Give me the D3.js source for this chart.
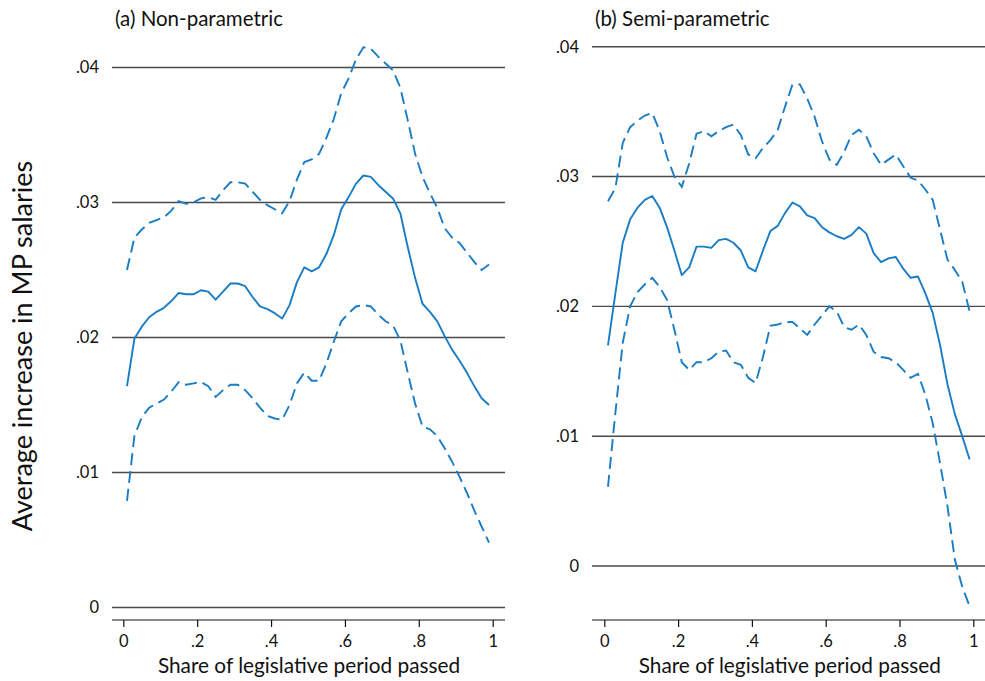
<!DOCTYPE html>
<html>
<head>
<meta charset="utf-8">
<script src="https://cdn.jsdelivr.net/npm/d3@7"></script>
<style>
  html, body { margin: 0; padding: 0; background: #fff; }
  svg text { font-family: "Lato", "Noto Sans", sans-serif; fill: #111; }
</style>
</head>
<body>
<svg id="chart" width="985" height="681"></svg>
<script>
// Share of legislative period passed (bin midpoints)
const share = d3.range(50).map(i => +(0.01 + 0.02 * i).toFixed(2));

// (a) Non-parametric estimate with confidence band
const npEstimate = [0.0164,0.0199,0.0208,0.0215,0.0219,0.0222,0.0227,0.0233,0.0232,0.0232,
  0.0235,0.0234,0.0228,0.0234,0.0240,0.0240,0.0238,0.0230,0.0223,0.0221,
  0.0218,0.0214,0.0224,0.0241,0.0252,0.0249,0.0252,0.0262,0.0276,0.0295,
  0.0304,0.0314,0.0320,0.0319,0.0313,0.0308,0.0303,0.0292,0.0267,0.0244,
  0.0225,0.0219,0.0212,0.0201,0.0191,0.0183,0.0174,0.0164,0.0155,0.0150];
const npUpper = [0.0250,0.0274,0.0280,0.0285,0.0287,0.0289,0.0294,0.0301,0.0299,0.0300,
  0.0303,0.0304,0.0302,0.0309,0.0315,0.0315,0.0314,0.0308,0.0302,0.0298,
  0.0295,0.0292,0.0301,0.0317,0.0330,0.0332,0.0336,0.0348,0.0362,0.0381,
  0.0392,0.0406,0.0415,0.0414,0.0408,0.0403,0.0398,0.0385,0.0361,0.0336,
  0.0319,0.0307,0.0296,0.0281,0.0274,0.0270,0.0263,0.0256,0.0250,0.0254];
const npLower = [0.0079,0.0127,0.0141,0.0148,0.0151,0.0154,0.0160,0.0167,0.0165,0.0166,
  0.0167,0.0164,0.0156,0.0161,0.0165,0.0165,0.0161,0.0155,0.0148,0.0142,
  0.0140,0.0139,0.0150,0.0166,0.0174,0.0168,0.0168,0.0181,0.0197,0.0212,
  0.0218,0.0223,0.0224,0.0223,0.0217,0.0212,0.0209,0.0198,0.0174,0.0151,
  0.0134,0.0132,0.0127,0.0118,0.0108,0.0097,0.0085,0.0072,0.0060,0.0048];

// (b) Semi-parametric estimate with confidence band
const spEstimate = [0.0170,0.0210,0.0249,0.0267,0.0276,0.0282,0.0285,0.0276,0.0261,0.0243,
  0.0224,0.0230,0.0246,0.0246,0.0245,0.0251,0.0252,0.0249,0.0243,0.0230,
  0.0227,0.0243,0.0258,0.0262,0.0272,0.0280,0.0277,0.0270,0.0268,0.0261,
  0.0257,0.0254,0.0252,0.0255,0.0261,0.0256,0.0241,0.0234,0.0237,0.0238,
  0.0229,0.0222,0.0223,0.0210,0.0195,0.0170,0.0140,0.0117,0.0100,0.0082];
const spUpper = [0.0281,0.0291,0.0326,0.0338,0.0343,0.0347,0.0349,0.0335,0.0315,0.0300,
  0.0292,0.0310,0.0333,0.0335,0.0331,0.0335,0.0338,0.0340,0.0332,0.0317,
  0.0314,0.0322,0.0328,0.0336,0.0354,0.0371,0.0371,0.0360,0.0346,0.0327,
  0.0313,0.0309,0.0319,0.0332,0.0336,0.0331,0.0318,0.0309,0.0313,0.0317,
  0.0308,0.0299,0.0297,0.0290,0.0282,0.0259,0.0236,0.0228,0.0219,0.0196];
const spLower = [0.0061,0.0118,0.0172,0.0200,0.0211,0.0217,0.0222,0.0215,0.0205,0.0182,
  0.0157,0.0151,0.0157,0.0157,0.0160,0.0165,0.0166,0.0157,0.0155,0.0145,
  0.0141,0.0161,0.0185,0.0186,0.0188,0.0188,0.0183,0.0178,0.0186,0.0193,
  0.0200,0.0196,0.0184,0.0182,0.0186,0.0178,0.0165,0.0161,0.0160,0.0157,
  0.0151,0.0145,0.0148,0.0132,0.0110,0.0079,0.0046,0.0005,-0.0016,-0.0031];

const xTicks = [0, 0.2, 0.4, 0.6, 0.8, 1];
const yTicks = [0, 0.01, 0.02, 0.03, 0.04];
const xTickLabel = v => v === 0 ? "0" : v === 1 ? "1" : "." + Math.round(v * 10);
const yTickLabel = v => v === 0 ? "0" : "." + String(Math.round(v * 100)).padStart(2, "0");

const lineColor = "#1a7cc3";
const svg = d3.select("#chart");

const panels = [
  { title: "(a) Non-parametric", left: 112, right: 505, x0: 123.3, x1: 492.7,
    yZero: 607.5, yTop: 67.5, est: npEstimate, up: npUpper, lo: npLower },
  { title: "(b) Semi-parametric", left: 592, right: 985, x0: 604.3, x1: 973.3,
    yZero: 566, yTop: 46.7, est: spEstimate, up: spUpper, lo: spLower }
];

const axisY = 620;

panels.forEach(p => {
  const x = d3.scaleLinear().domain([0, 1]).range([p.x0, p.x1]);
  const y = d3.scaleLinear().domain([0, 0.04]).range([p.yZero, p.yTop]);
  const g = svg.append("g");

  // horizontal grid lines
  g.selectAll("line.grid").data(yTicks).join("line")
    .attr("class", "grid")
    .attr("x1", p.left).attr("x2", p.right)
    .attr("y1", d => y(d)).attr("y2", d => y(d))
    .attr("stroke", "#4a4a4a").attr("stroke-width", 1.4);

  // y tick labels
  g.selectAll("text.ytick").data(yTicks).join("text")
    .attr("class", "ytick")
    .attr("x", p.left - 13).attr("y", d => y(d))
    .attr("dy", "0.36em").attr("text-anchor", "end")
    .attr("font-size", 16.5)
    .text(yTickLabel);

  // x axis
  const xAxis = d3.axisBottom(x).tickValues(xTicks).tickSize(7).tickPadding(8)
    .tickFormat(xTickLabel);
  const ax = g.append("g").attr("transform", `translate(0,${axisY})`).call(xAxis);
  ax.select(".domain").remove();
  ax.selectAll(".tick line").attr("stroke", "#111").attr("stroke-width", 1.2);
  ax.selectAll(".tick text").attr("font-size", 16.5).attr("fill", "#111")
    .style("font-family", "Lato, 'Noto Sans', sans-serif");
  g.append("line")
    .attr("x1", p.left).attr("x2", p.right)
    .attr("y1", axisY).attr("y2", axisY)
    .attr("stroke", "#111").attr("stroke-width", 1.2);

  g.append("text")
    .attr("x", (p.x0 + p.x1) / 2 + 1).attr("y", 673)
    .attr("text-anchor", "middle").attr("font-size", 20.8)
    .text("Share of legislative period passed");

  // panel title
  g.append("text")
    .attr("x", p.left + 3).attr("y", 26)
    .attr("font-size", 20.5)
    .text(p.title);

  const line = vals => d3.line()
    .x((d, i) => x(share[i]))
    .y(d => y(d))(vals);

  g.append("path").attr("d", line(p.up))
    .attr("fill", "none").attr("stroke", lineColor).attr("stroke-width", 1.9)
    .attr("stroke-dasharray", "12,6");
  g.append("path").attr("d", line(p.lo))
    .attr("fill", "none").attr("stroke", lineColor).attr("stroke-width", 1.9)
    .attr("stroke-dasharray", "12,6");
  g.append("path").attr("d", line(p.est))
    .attr("fill", "none").attr("stroke", lineColor).attr("stroke-width", 1.9)
    .attr("stroke-linejoin", "round");
});

// shared y axis title
svg.append("text")
  .attr("transform", "translate(32,346) rotate(-90)")
  .attr("text-anchor", "middle").attr("font-size", 27)
  .text("Average increase in MP salaries");
</script>
</body>
</html>
